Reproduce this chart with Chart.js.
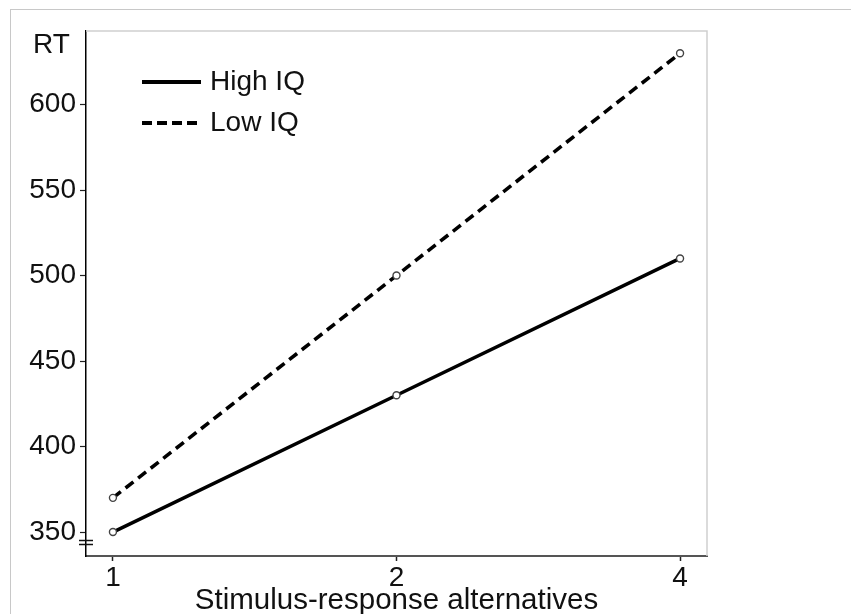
<!DOCTYPE html>
<html lang="en">
<head>
<meta charset="utf-8">
<title>RT by stimulus-response alternatives</title>
<script src="https://cdn.jsdelivr.net/npm/chart.js"></script>
<style>
    body { margin: 0; background: #fff; }
    .wrap { position: relative; width: 851px; height: 614px; overflow: hidden; }
    /* thin grey frame along the top and left edge */
    .frame { position: absolute; left: 10px; top: 9px; right: -2px; bottom: -2px;
             border-left: 1px solid #c8c8c8; border-top: 1px solid #c8c8c8; }
    #rtChart { position: absolute; left: 0; top: 0; }
</style>
</head>
<body>
<div class="wrap">
    <div class="frame"></div>
    <canvas id="rtChart" width="851" height="614"></canvas>
</div>
<script>
    // number of alternatives shown on the x axis (evenly spaced)
    const categories = ['1', '2', '4'];
    const highIQ = [350, 430, 510];
    const lowIQ = [370, 500, 630];
    const yTicks = [350, 400, 450, 500, 550, 600];
    const seriesNames = ['High IQ', 'Low IQ'];

    const FONT = '"Liberation Sans", Arial, Helvetica, sans-serif';
    const SIZE = 28;

    function toPoints(values) {
        return values.map(function (v, i) { return {x: i, y: v}; });
    }

    // RT label, legend and the axis break mark
    const extras = {
        id: 'extras',
        afterDraw(chart) {
            const c = chart.ctx;
            const area = chart.chartArea;
            c.save();

            // light frame on top and right of the plot
            c.strokeStyle = '#cfcfcf';
            c.lineWidth = 1.5;
            c.beginPath();
            c.moveTo(area.left, area.top);
            c.lineTo(area.right, area.top);
            c.lineTo(area.right, area.bottom);
            c.stroke();

            c.fillStyle = '#111';
            c.font = SIZE + 'px ' + FONT;
            c.textBaseline = 'alphabetic';
            c.textAlign = 'left';
            c.fillText('RT', 33, 53);

            // legend
            const rows = [
                {y: 82, dash: [], text: seriesNames[0]},
                {y: 123, dash: [10, 5], text: seriesNames[1]}
            ];
            rows.forEach(function (r) {
                c.strokeStyle = '#000';
                c.lineWidth = 4;
                c.setLineDash(r.dash);
                c.beginPath();
                c.moveTo(142, r.y);
                c.lineTo(201, r.y);
                c.stroke();
                c.setLineDash([]);
                c.fillText(r.text, 210, r.y + 8);
            });

            // break mark on the y axis
            c.strokeStyle = '#111';
            c.lineWidth = 1.3;
            c.beginPath();
            c.moveTo(79, 540.5); c.lineTo(93, 540.5);
            c.moveTo(79, 544.5); c.lineTo(93, 544.5);
            c.stroke();
            c.restore();
        }
    };

    const pointStyle = {
        pointRadius: 3.5,
        pointBackgroundColor: '#fff',
        pointBorderColor: '#444',
        pointBorderWidth: 1.4
    };

    new Chart(document.getElementById('rtChart'), {
        type: 'line',
        data: {
            datasets: [Object.assign({
                label: seriesNames[0],
                data: toPoints(highIQ),
                borderColor: '#000',
                borderWidth: 3.5
            }, pointStyle), Object.assign({
                label: seriesNames[1],
                data: toPoints(lowIQ),
                borderColor: '#000',
                borderWidth: 3.6,
                borderDash: [10, 6]
            }, pointStyle)]
        },
        options: {
            responsive: false,
            animation: false,
            layout: { padding: { top: 31, right: 144, left: 0, bottom: 0 } },
            plugins: { legend: { display: false }, tooltip: { enabled: false } },
            scales: {
                x: {
                    type: 'linear',
                    min: -0.095,
                    max: 2.095,
                    afterBuildTicks(axis) {
                        axis.ticks = categories.map(function (c, i) { return {value: i}; });
                    },
                    afterFit(axis) { axis.height = 58; },
                    border: { display: true, color: '#555', width: 2 },
                    grid: { drawOnChartArea: false, tickLength: 5, tickWidth: 1.5, tickColor: '#222' },
                    ticks: {
                        padding: 0,
                        color: '#111',
                        font: { family: FONT, size: SIZE },
                        callback: function (v) { return categories[v]; }
                    },
                    title: {
                        display: true,
                        text: 'Stimulus-response alternatives',
                        color: '#111',
                        font: { family: FONT, size: 29.5, lineHeight: 1 },
                        padding: { top: 0, bottom: -2 }
                    }
                },
                y: {
                    min: 336,
                    max: 643,
                    afterBuildTicks(axis) {
                        axis.ticks = yTicks.map(function (v) { return {value: v}; });
                    },
                    afterFit(axis) { axis.width = 86; },
                    border: { display: true, color: '#000', width: 1.5 },
                    grid: { drawOnChartArea: false, tickLength: 6, tickWidth: 1.2, tickColor: '#222' },
                    ticks: {
                        padding: 4,
                        color: '#111',
                        font: { family: FONT, size: SIZE }
                    }
                }
            }
        },
        plugins: [extras]
    });
</script>
</body>
</html>
